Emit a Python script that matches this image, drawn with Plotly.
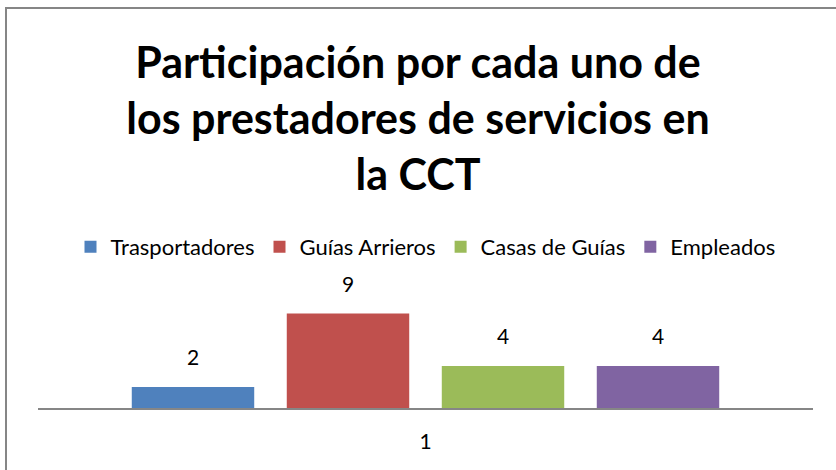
import plotly.graph_objects as go

categories = ["1"]
series_names = ["Trasportadores", "Guías Arrieros", "Casas de Guías", "Empleados"]
series_values = [[2], [9], [4], [4]]
series_colors = ["#4F81BD", "#C0504D", "#9BBB59", "#8064A2"]
title_text = "Participación por cada uno de<br>los prestadores de servicios en<br>la CCT"

W, H = 836, 470
ML, MR, MT, MB = 38, 23, 303, 62
PW, PH = W - ML - MR, H - MT - MB

fig = go.Figure()
for name, vals, col in zip(series_names, series_values, series_colors):
    fig.add_trace(go.Bar(
        x=categories, y=vals, name=name,
        marker=dict(color=col, line=dict(width=0)),
        texttemplate="<span style='font-size:21px'>%{y}</span><br>\u00a0",
        textposition="outside",
        textfont=dict(family="Lato", size=12, color="#000000"),
        cliponaxis=False,
    ))

def px_x(p):
    return (p - ML) / PW

def px_y(p):
    return (H - MB - p) / PH

fig.update_layout(
    width=W, height=H,
    margin=dict(l=ML, r=MR, t=MT, b=MB),
    paper_bgcolor="white", plot_bgcolor="white",
    barmode="group", bargap=0.2, bargroupgap=0.21,
    font=dict(family="Lato", color="#000000"),
    title=dict(text=title_text, x=0.5, xanchor="center", xref="container",
               y=1 - 78 / H, yanchor="top", yref="container",
               font=dict(family="Lato", size=43, color="#000000", weight="bold")),
    legend=dict(orientation="h", x=0.5, xanchor="center", y=px_y(247), yanchor="middle",
                font=dict(family="Lato", size=22, color="#000000"),
                itemwidth=30, tracegroupgap=0, bgcolor="rgba(0,0,0,0)"),
    xaxis=dict(type="category", showline=True, linecolor="#868686", linewidth=2,
               ticks="outside", ticklen=14, tickcolor="rgba(0,0,0,0)",
               tickfont=dict(family="Lato", size=21, color="#000000"),
               showgrid=False, zeroline=False, fixedrange=True),
    yaxis=dict(range=[0, 10], visible=False, showgrid=False, zeroline=False, fixedrange=True),
    shapes=[dict(type="rect", xref="paper", yref="paper",
                 x0=px_x(6), x1=px_x(845), y0=px_y(480), y1=px_y(8),
                 line=dict(color="#868686", width=2), fillcolor="rgba(0,0,0,0)", layer="below")],
    showlegend=True,
)

fig.write_html(
    "out.html",
    config={"displayModeBar": False},
    post_script="document.body.style.margin='0px';document.body.style.overflow='hidden';"
                "document.documentElement.style.overflow='hidden';",
)
